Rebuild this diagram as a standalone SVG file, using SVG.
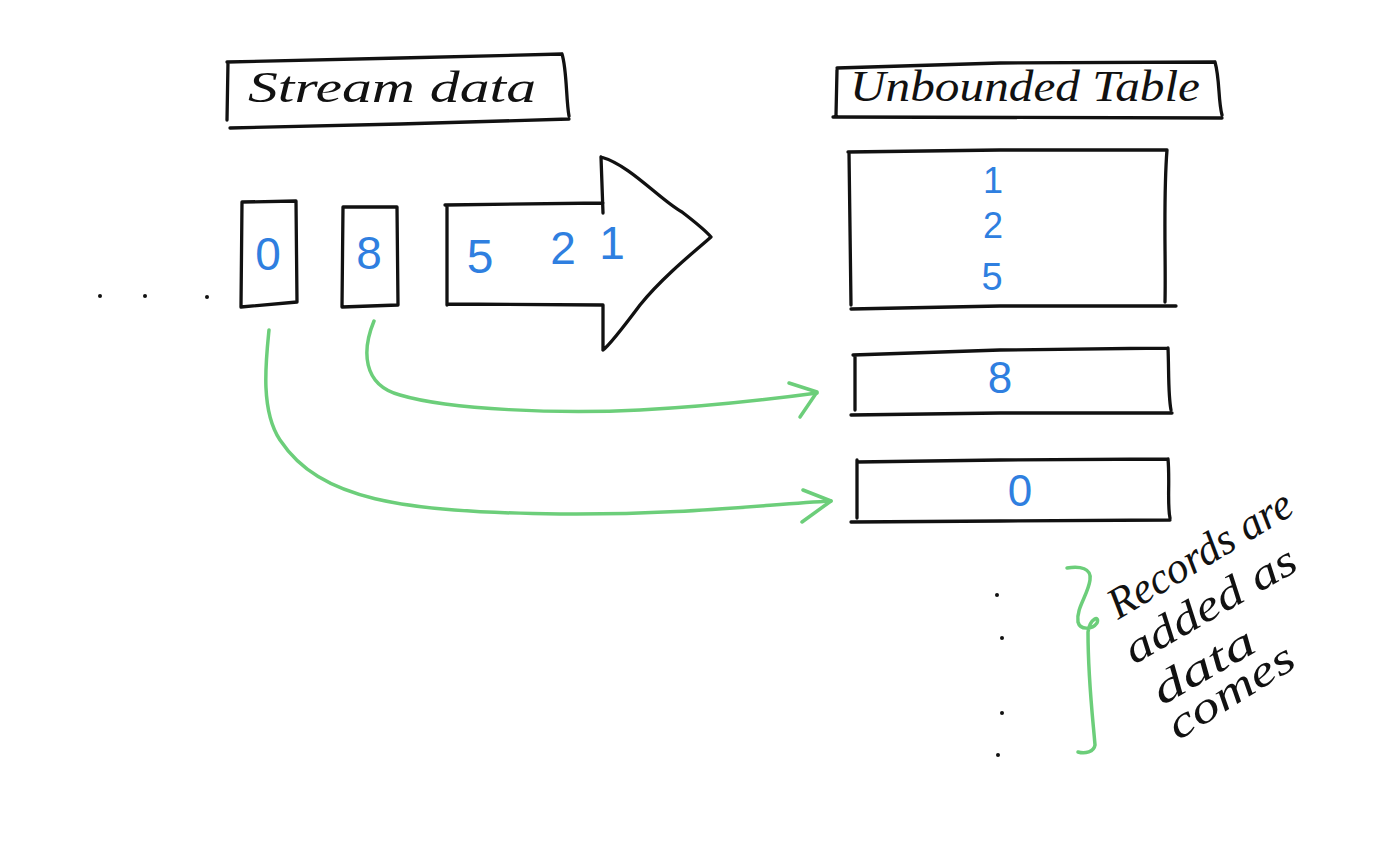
<svg xmlns="http://www.w3.org/2000/svg" width="1400" height="866" viewBox="0 0 1400 866">
<style>
.ink{fill:none;stroke:#111;stroke-width:3.3;stroke-linecap:round;stroke-linejoin:round}
.green{fill:none;stroke:#6cce7a;stroke-width:3.5;stroke-linecap:round;stroke-linejoin:round}
.hand{font-family:"Liberation Serif",serif;font-style:italic;fill:#111}
.num{font-family:"Liberation Sans",Arial,sans-serif;fill:#2f7fe0;text-anchor:middle}
.dot{fill:#111}
</style>
<rect width="1400" height="866" fill="#fff"/>

<g id="title-stream">
<path class="ink" d="M228,62 L227,120 M227,62 L400,58 L562,54 M562,54 C567,70 566,100 569,116 M230,128 L400,124 L569,119"/>
<text class="hand" x="248" y="102" font-size="44" textLength="288" lengthAdjust="spacingAndGlyphs">Stream data</text>
</g>

<g id="title-table">
<path class="ink" d="M837,70 L836,115 M837,68 L1000,63 L1215,62 M1215,62 C1220,80 1218,100 1222,115 M833,117 L1222,118"/>
<text class="hand" x="850" y="101" font-size="44" textLength="350" lengthAdjust="spacingAndGlyphs">Unbounded Table</text>
</g>

<g id="stream-dots">
<circle class="dot" cx="100" cy="296" r="2"/>
<circle class="dot" cx="145" cy="296" r="2"/>
<circle class="dot" cx="207" cy="297" r="2"/>
</g>

<g id="record-0">
<path class="ink" d="M242,202 L296,201 L297,302 L241,307 Z"/>
<text class="num" x="268" y="270" font-size="46">0</text>
</g>

<g id="record-8">
<path class="ink" d="M343,207 L397,207 L398,305 L342,307 Z"/>
<text class="num" x="369" y="269" font-size="46">8</text>
</g>

<g id="stream-arrow">
<path class="ink" d="M447,205 L447,305 M445,205 L603,203 M601,157 L603,213 M601,157 C630,165 660,200 682,212 C695,222 705,230 711,237 M711,237 C690,255 660,280 640,305 C625,325 610,345 603,350 M447,304 L603,305 L603,350"/>
<text class="num" x="480" y="273" font-size="48">5</text>
<text class="num" x="563" y="264" font-size="46">2</text>
<text class="num" x="612" y="259" font-size="46">1</text>
</g>

<g id="table-main">
<path class="ink" d="M849,152 L851,305 M848,152 L1000,150 L1167,150 M1167,150 C1163,200 1166,260 1165,302 M851,309 L1000,306 L1176,306"/>
<text class="num" x="993" y="193" font-size="36">1</text>
<text class="num" x="993" y="238" font-size="36">2</text>
<text class="num" x="992" y="290" font-size="38">5</text>
</g>

<g id="table-row-8">
<path class="ink" d="M853,355 L1000,350 L1168,348 M855,355 L855,410 M1168,348 C1169,370 1168,395 1171,410 M851,415 L1000,413 L1172,413"/>
<text class="num" x="1000" y="393" font-size="44">8</text>
</g>

<g id="table-row-0">
<path class="ink" d="M857,462 L1000,460 L1168,459 M857,460 L857,518 M1168,459 C1170,480 1167,505 1170,518 M851,522 L1000,521 L1170,520"/>
<text class="num" x="1020" y="506" font-size="44">0</text>
</g>

<g id="table-dots">
<circle class="dot" cx="997" cy="595" r="2"/>
<circle class="dot" cx="1002" cy="638" r="2"/>
<circle class="dot" cx="1002" cy="713" r="2"/>
<circle class="dot" cx="998" cy="755" r="2"/>
</g>

<g id="note">
<path class="green" d="M1067,568 C1080,566 1092,568 1090,580 C1088,595 1076,608 1078,622 C1080,630 1092,630 1097,623 C1100,615 1090,618 1088,632 C1088,680 1093,720 1095,745 C1094,752 1085,754 1078,752"/>
<text class="hand" font-size="44" transform="translate(1118,620) rotate(-31)" textLength="208" lengthAdjust="spacingAndGlyphs">Records are</text>
<text class="hand" font-size="44" transform="translate(1134,665) rotate(-30)" textLength="192" lengthAdjust="spacingAndGlyphs">added as</text>
<text class="hand" font-size="44" transform="translate(1162,706) rotate(-30)" textLength="112" lengthAdjust="spacingAndGlyphs">data</text>
<text class="hand" font-size="44" transform="translate(1178,741) rotate(-32)" textLength="142" lengthAdjust="spacingAndGlyphs">comes</text>
</g>

<g id="connectors">
<path class="green" d="M374,321 C362,350 362,385 400,395 C450,410 560,414 640,410 C720,406 780,398 817,393"/>
<path class="green" d="M789,383 L817,392 L800,417"/>
<path class="green" d="M269,330 C266,360 260,410 280,440 C320,500 400,512 560,514 C680,515 760,505 831,501"/>
<path class="green" d="M803,490 L831,501 L802,522"/>
</g>
</svg>
